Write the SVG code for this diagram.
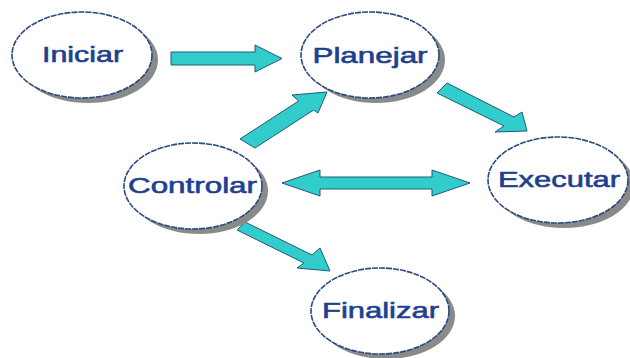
<svg xmlns="http://www.w3.org/2000/svg" width="630" height="358" viewBox="0 0 630 358">
<style>
.shadow{fill:#8a8a8a}
.node{fill:#ffffff;stroke:#2b4a7e;stroke-width:1.6;stroke-dasharray:6 1}
.label{font-family:"Liberation Sans",Arial,sans-serif;font-size:22px;fill:#1f3f8f;stroke:#1f3f8f;stroke-width:0.6;text-anchor:middle}
.arrow{fill:#33cccc;stroke:#1f5a78;stroke-width:1;stroke-linejoin:miter}
</style>
<rect width="630" height="358" fill="#ffffff"/>
<g id="connectors">
<polygon class="arrow" points="171,52 255,52 255,45 282,58.5 255,72 255,65 171,65"/>
<polygon class="arrow" points="240,139 298.6,101 292,95 327,92 318,113 313.6,110 255,148"/>
<polygon class="arrow" points="447,83 514,117 522,112 527,131 495,132 504,126 437,93"/>
<polygon class="arrow" points="282,183 320,170 320,177 432,177 432,170 470,183 432,196 432,189 320,189 320,196"/>
<polygon class="arrow" points="245,222 312,255 320,248 330,271 297,268 304,263 237,230"/>
</g>
<g id="iniciar">
<ellipse class="shadow" cx="88" cy="60" rx="70" ry="43"/>
<ellipse class="node" cx="82" cy="55" rx="70" ry="43"/>
<text class="label" x="82.5" y="62" textLength="81" lengthAdjust="spacingAndGlyphs">Iniciar</text>
</g>
<g id="planejar">
<ellipse class="shadow" cx="376" cy="60" rx="69" ry="43"/>
<ellipse class="node" cx="370" cy="55" rx="69" ry="43"/>
<text class="label" x="370" y="63" textLength="115" lengthAdjust="spacingAndGlyphs">Planejar</text>
</g>
<g id="controlar">
<ellipse class="shadow" cx="199" cy="191" rx="69" ry="43"/>
<ellipse class="node" cx="193" cy="186" rx="69" ry="43"/>
<text class="label" x="192.5" y="193" textLength="129" lengthAdjust="spacingAndGlyphs">Controlar</text>
</g>
<g id="executar">
<ellipse class="shadow" cx="564" cy="185" rx="70" ry="43"/>
<ellipse class="node" cx="558" cy="180" rx="70" ry="43"/>
<text class="label" x="559" y="187" textLength="122" lengthAdjust="spacingAndGlyphs">Executar</text>
</g>
<g id="finalizar">
<ellipse class="shadow" cx="386" cy="316" rx="69" ry="43"/>
<ellipse class="node" cx="380" cy="311" rx="69" ry="43"/>
<text class="label" x="380.5" y="318" textLength="117" lengthAdjust="spacingAndGlyphs">Finalizar</text>
</g>
</svg>
